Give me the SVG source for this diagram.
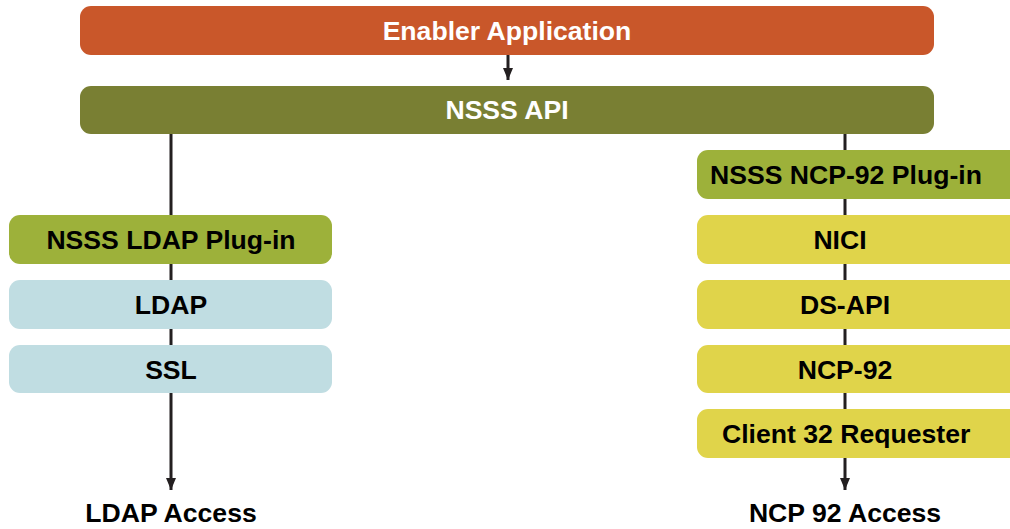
<svg xmlns="http://www.w3.org/2000/svg" width="1010" height="529" viewBox="0 0 1010 529">
<defs>
<marker id="ah" viewBox="0 0 12 10" refX="12" refY="5" markerWidth="12" markerHeight="10" markerUnits="userSpaceOnUse" orient="auto">
<path d="M0,0 L12,5 L0,10 Z" fill="#231F20"/>
</marker>
<style>
text{font-family:"Liberation Sans",Arial,sans-serif;font-weight:bold;font-size:26.6px;}
.w{fill:#FFFFFF;text-anchor:middle;}
.b{fill:#000000;}
.c{text-anchor:middle;}
.ln{stroke:#231F20;stroke-width:3;fill:none;}
</style>
</defs>
<rect width="1010" height="529" fill="#FFFFFF"/>
<g id="connectors">
<line class="ln" x1="508" y1="55" x2="508" y2="80" marker-end="url(#ah)"/>
<line class="ln" x1="171" y1="134" x2="171" y2="490" marker-end="url(#ah)"/>
<line class="ln" x1="845" y1="134" x2="845" y2="490" marker-end="url(#ah)"/>
</g>
<g id="enabler">
<rect x="80" y="6" width="854" height="49" rx="11" fill="#C9572A"/>
<text class="w" x="507" y="40">Enabler Application</text>
</g>
<g id="nsss-api">
<rect x="80" y="86" width="854" height="48" rx="11" fill="#797F33"/>
<text class="w" x="507" y="119">NSSS API</text>
</g>
<g id="ldap-plugin">
<rect x="9" y="215" width="323" height="49" rx="11" fill="#9DB13A"/>
<text class="b c" x="171" y="249">NSSS LDAP Plug-in</text>
</g>
<g id="ldap">
<rect x="9" y="280" width="323" height="49" rx="11" fill="#C0DDE2"/>
<text class="b c" x="171" y="314">LDAP</text>
</g>
<g id="ssl">
<rect x="9" y="345" width="323" height="48" rx="11" fill="#C0DDE2"/>
<text class="b c" x="171" y="379">SSL</text>
</g>
<g id="ncp-plugin">
<rect x="697" y="150" width="330" height="49" rx="11" fill="#9DB13A"/>
<text class="b" x="710" y="184">NSSS NCP-92 Plug-in</text>
</g>
<g id="nici">
<rect x="697" y="215" width="330" height="49" rx="11" fill="#E0D44A"/>
<text class="b c" x="840" y="249">NICI</text>
</g>
<g id="ds-api">
<rect x="697" y="280" width="330" height="49" rx="11" fill="#E0D44A"/>
<text class="b c" x="845" y="314">DS-API</text>
</g>
<g id="ncp-92">
<rect x="697" y="345" width="330" height="48" rx="11" fill="#E0D44A"/>
<text class="b c" x="845" y="379">NCP-92</text>
</g>
<g id="client32">
<rect x="697" y="409" width="330" height="49" rx="11" fill="#E0D44A"/>
<text class="b" x="722" y="443">Client 32 Requester</text>
</g>
<g id="ldap-access">
<text class="b c" x="171" y="522">LDAP Access</text>
</g>
<g id="ncp-access">
<text class="b c" x="845" y="522">NCP 92 Access</text>
</g>
</svg>
